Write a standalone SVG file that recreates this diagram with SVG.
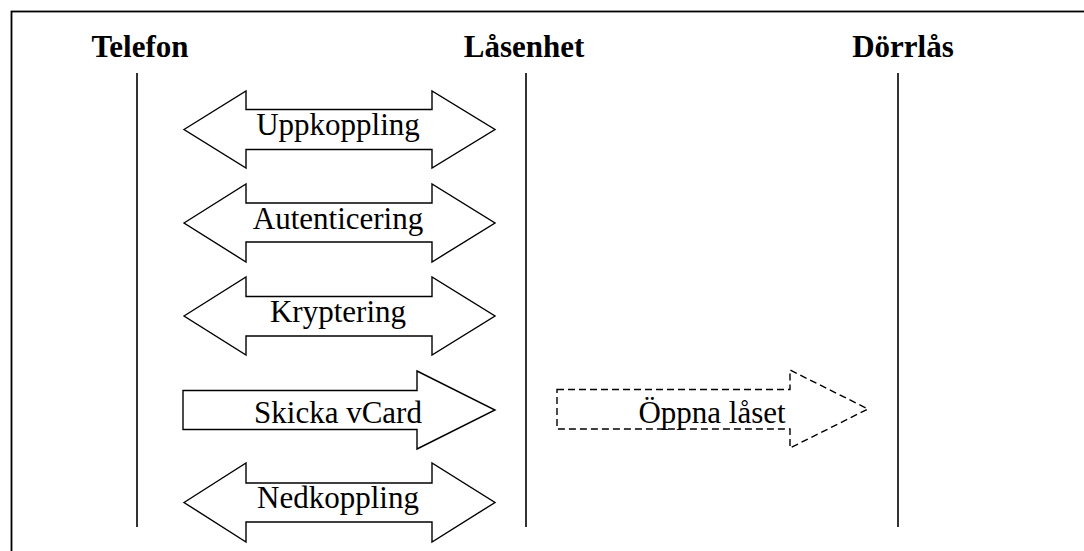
<svg xmlns="http://www.w3.org/2000/svg" width="1084" height="551" viewBox="0 0 1084 551">
<style>
.hdr{font-family:"Liberation Serif","Times New Roman",serif;font-weight:bold;font-size:31px;fill:#000;text-anchor:middle}
.lbl{font-family:"Liberation Serif","Times New Roman",serif;font-size:31px;fill:#000;text-anchor:middle}
.life{stroke:#000;stroke-width:1.6;fill:none}
.arr{stroke:#000;stroke-width:1.4;fill:#fff;stroke-linejoin:miter}
.dash{stroke-dasharray:7,4}
</style>
<rect x="11.5" y="11.5" width="1090" height="560" fill="#fff" stroke="#000" stroke-width="1.8"/>
<g id="telefon">
<text class="hdr" x="140" y="57">Telefon</text>
<line class="life" x1="137" y1="73" x2="137" y2="527"/>
</g>
<g id="lasenhet">
<text class="hdr" x="524" y="57">Låsenhet</text>
<line class="life" x1="526" y1="73" x2="526" y2="527"/>
</g>
<g id="dorrlas">
<text class="hdr" x="903" y="57">Dörrlås</text>
<line class="life" x1="898" y1="73" x2="898" y2="527"/>
</g>
<g id="connectors">
<g id="uppkoppling">
<polygon class="arr" points="184,129.5 246,91 246,109.5 432,109.5 432,91 495,129.5 432,168 432,149.5 246,149.5 246,168"/>
<text class="lbl" x="338" y="135">Uppkoppling</text>
</g>
<g id="autenticering">
<polygon class="arr" points="184,223 246,184 246,203 432,203 432,184 495,223 432,262 432,242 246,242 246,262"/>
<text class="lbl" x="338" y="229">Autenticering</text>
</g>
<g id="kryptering">
<polygon class="arr" points="184,316 246,277 246,296.5 432,296.5 432,277 495,316 432,355 432,336 246,336 246,355"/>
<text class="lbl" x="338" y="322">Kryptering</text>
</g>
<g id="skicka">
<polygon class="arr" points="183,390.5 417,390.5 417,371 495,410 417,449 417,429.5 183,429.5"/>
<text class="lbl" x="338" y="423">Skicka vCard</text>
</g>
<g id="oppna">
<polygon class="arr dash" points="557,389.5 790,389.5 790,370 868,409 790,448 790,429 557,429"/>
<text class="lbl" x="712" y="423">Öppna låset</text>
</g>
<g id="nedkoppling">
<polygon class="arr" points="184,502.5 246,463 246,483 432,483 432,463 495,502.5 432,542 432,522 246,522 246,542"/>
<text class="lbl" x="338" y="508">Nedkoppling</text>
</g>
</g>
</svg>
